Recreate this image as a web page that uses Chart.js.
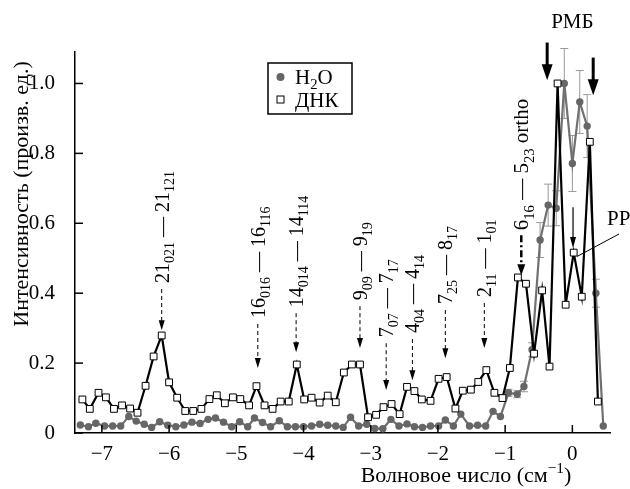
<!DOCTYPE html>
<html>
<head>
<meta charset="utf-8">
<script src="https://cdn.jsdelivr.net/npm/chart.js@4.4.1/dist/chart.umd.min.js"></script>
<style>
  body { margin: 0; background: #fff; }
  #wrap { width: 630px; height: 489px; }
</style>
</head>
<body>
<div id="wrap"><canvas id="myChart" width="630" height="489"></canvas></div>
<script>
// ДНК (squares)
const dnkX = [-7.29, -7.18, -7.05, -6.94, -6.82, -6.70, -6.58, -6.47, -6.35, -6.23,
  -6.11, -6.00, -5.88, -5.76, -5.64, -5.52, -5.40, -5.29, -5.17, -5.05,
  -4.94, -4.81, -4.70, -4.58, -4.46, -4.34, -4.22, -4.10, -3.99, -3.88,
  -3.76, -3.64, -3.52, -3.40, -3.28, -3.16, -3.04, -2.92, -2.81, -2.69,
  -2.57, -2.46, -2.35, -2.24, -2.11, -1.99, -1.87, -1.74, -1.63, -1.51,
  -1.40, -1.28, -1.16, -1.04, -0.93, -0.81, -0.69, -0.57, -0.45, -0.34,
  -0.22, -0.10, 0.02, 0.14, 0.26, 0.38];
const dnkY = [0.096, 0.069, 0.115, 0.102, 0.069, 0.079, 0.070, 0.058, 0.135, 0.219,
  0.279, 0.145, 0.101, 0.063, 0.063, 0.069, 0.097, 0.108, 0.085, 0.102,
  0.097, 0.079, 0.134, 0.079, 0.069, 0.090, 0.090, 0.196, 0.096, 0.101,
  0.087, 0.107, 0.088, 0.173, 0.196, 0.196, 0.045, 0.052, 0.074, 0.083,
  0.054, 0.132, 0.120, 0.096, 0.092, 0.155, 0.160, 0.070, 0.121, 0.124,
  0.146, 0.180, 0.115, 0.100, 0.186, 0.445, 0.427, 0.227, 0.408, 0.190,
  1.000, 0.367, 0.516, 0.390, 0.833, 0.090];

// H2O (grey circles) + error bars
const h2oX = [-7.32, -7.20, -7.09, -6.96, -6.84, -6.72, -6.60, -6.49, -6.37, -6.26,
  -6.14, -6.02, -5.90, -5.78, -5.66, -5.54, -5.42, -5.31, -5.19, -5.07,
  -4.95, -4.83, -4.73, -4.61, -4.49, -4.36, -4.24, -4.12, -4.00, -3.88,
  -3.76, -3.64, -3.52, -3.41, -3.30, -3.18, -3.06, -2.94, -2.82, -2.70,
  -2.58, -2.46, -2.35, -2.23, -2.11, -1.99, -1.89, -1.77, -1.66, -1.53,
  -1.41, -1.29, -1.18, -1.07, -0.95, -0.82, -0.72, -0.60, -0.48, -0.36,
  -0.24, -0.12, 0.00, 0.11, 0.22, 0.35, 0.46];
const h2oY = [0.023, 0.018, 0.028, 0.020, 0.020, 0.020, 0.047, 0.034, 0.025, 0.016,
  0.032, 0.022, 0.018, 0.023, 0.031, 0.027, 0.039, 0.043, 0.031, 0.018,
  0.032, 0.018, 0.043, 0.030, 0.018, 0.035, 0.018, 0.018, 0.018, 0.020,
  0.025, 0.022, 0.020, 0.016, 0.045, 0.020, 0.025, 0.013, 0.012, 0.039,
  0.020, 0.026, 0.018, 0.016, 0.020, 0.020, 0.037, 0.020, 0.054, 0.020,
  0.022, 0.020, 0.062, 0.047, 0.115, 0.111, 0.133, 0.238, 0.552, 0.652,
  0.643, 1.000, 0.771, 0.947, 0.878, 0.400, 0.020];
const h2oErrX = [-0.95, -0.82, -0.72, -0.60, -0.48, -0.36, -0.24, -0.12, 0.00, 0.11, 0.22, 0.35];
const h2oErrY = [0.115, 0.111, 0.133, 0.238, 0.552, 0.652, 0.643, 1.000, 0.771, 0.947, 0.878, 0.400];
const h2oErr = [0.01, 0.01, 0.015, 0.02, 0.05, 0.06, 0.05, 0.10, 0.08, 0.09, 0.09, 0.04];

// transition labels: text pieces, x of arrow, value at text foot, value at arrow tip
const lineNames = [
  [['21', ''], ['021', 'sub'], [' \u2014 21', ''], ['121', 'sub']],
  [['16', ''], ['016', 'sub'], [' \u2014 16', ''], ['116', 'sub']],
  [['14', ''], ['014', 'sub'], [' \u2014 14', ''], ['114', 'sub']],
  [['9', ''], ['09', 'sub'], [' \u2014 9', ''], ['19', 'sub']],
  [['7', ''], ['07', 'sub'], [' \u2014 7', ''], ['17', 'sub']],
  [['4', ''], ['04', 'sub'], [' \u2014 4', ''], ['14', 'sub']],
  [['7', ''], ['25', 'sub'], [' \u2014 8', ''], ['17', 'sub']],
  [['2', ''], ['11', 'sub'], [' \u2014 1', ''], ['01', 'sub']],
  [['6', ''], ['16', 'sub'], [' \u2014 5', ''], ['23', 'sub'], [' ortho', '']]
];
const lineX = [-6.11, -4.68, -4.11, -3.16, -2.77, -2.38, -1.89, -1.31, -0.76];
const lineFoot = [0.429, 0.329, 0.360, 0.380, 0.274, 0.286, 0.369, 0.389, 0.580];
const lineTip = [0.294, 0.186, 0.231, 0.243, 0.123, 0.151, 0.214, 0.243, 0.451];

const rmbX = [-0.375, 0.31];
const rmbFrom = [1.117, 1.074];
const rmbTo = [1.009, 0.966];
const rrX = 0.01;

const serif = '"Liberation Serif", "Times New Roman", serif';
const minus = v => (v < 0 ? '\u2212' + Math.abs(v) : String(v));

function partsWidth(ctx, parts, size) {
  let w = 0;
  parts.forEach(([t, kind]) => {
    ctx.font = (kind ? size * 0.7 : size) + 'px ' + serif;
    w += ctx.measureText(t).width;
  });
  return w;
}

function drawParts(ctx, parts, x, y, size) {
  parts.forEach(([t, kind]) => {
    const s = kind ? size * 0.7 : size;
    ctx.font = s + 'px ' + serif;
    let dy = 0;
    if (kind === 'sub') dy = size * 0.25;
    if (kind === 'sup') dy = -size * 0.4;
    ctx.fillText(t, x, y + dy);
    x += ctx.measureText(t).width;
  });
}

function arrowDown(ctx, x, y0, y1, opt) {
  ctx.save();
  ctx.strokeStyle = '#000';
  ctx.fillStyle = '#000';
  ctx.lineWidth = opt.width;
  ctx.setLineDash(opt.dash || []);
  ctx.beginPath();
  ctx.moveTo(x, y0);
  ctx.lineTo(x, y1 - opt.headL + 1);
  ctx.stroke();
  ctx.setLineDash([]);
  ctx.beginPath();
  ctx.moveTo(x - opt.headW / 2, y1 - opt.headL);
  ctx.lineTo(x + opt.headW / 2, y1 - opt.headL);
  ctx.lineTo(x, y1);
  ctx.closePath();
  ctx.fill();
  ctx.restore();
}

const errorBars = {
  id: 'errorBars',
  beforeDatasetsDraw(chart) {
    const { ctx, scales: { x, y } } = chart;
    ctx.save();
    ctx.strokeStyle = '#9a9a9a';
    ctx.lineWidth = 1;
    h2oErrX.forEach((v, i) => {
      const px = x.getPixelForValue(v);
      const top = y.getPixelForValue(h2oErrY[i] + h2oErr[i]);
      const bot = y.getPixelForValue(h2oErrY[i] - h2oErr[i]);
      ctx.beginPath();
      ctx.moveTo(px, top); ctx.lineTo(px, bot);
      ctx.moveTo(px - 4, top); ctx.lineTo(px + 4, top);
      ctx.moveTo(px - 4, bot); ctx.lineTo(px + 4, bot);
      ctx.stroke();
    });
    ctx.restore();
  }
};

const decorations = {
  id: 'decorations',
  afterDraw(chart) {
    const { ctx, chartArea, scales: { x, y } } = chart;
    ctx.save();

    // inward ticks
    ctx.strokeStyle = '#000';
    ctx.lineWidth = 1.5;
    x.ticks.forEach(t => {
      const px = x.getPixelForValue(t.value);
      ctx.beginPath();
      ctx.moveTo(px, chartArea.bottom);
      ctx.lineTo(px, chartArea.bottom - 8);
      ctx.stroke();
    });
    y.ticks.forEach(t => {
      const py = y.getPixelForValue(t.value);
      ctx.beginPath();
      ctx.moveTo(chartArea.left, py);
      ctx.lineTo(chartArea.left + 8, py);
      ctx.stroke();
    });

    ctx.fillStyle = '#000';
    ctx.textBaseline = 'alphabetic';
    ctx.textAlign = 'left';

    // transition labels, rotated
    lineNames.forEach((parts, i) => {
      const px = x.getPixelForValue(lineX[i]);
      const foot = y.getPixelForValue(lineFoot[i]);
      const tip = y.getPixelForValue(lineTip[i]);
      const size = i === lineNames.length - 1 ? 21 : 20;
      ctx.save();
      ctx.translate(px, foot);
      ctx.rotate(-Math.PI / 2);
      drawParts(ctx, parts, 0, 7, size);
      ctx.restore();
      if (i === lineNames.length - 1) {
        arrowDown(ctx, px, foot + 5, tip, { width: 2.5, dash: [7, 3, 2, 3], headW: 8, headL: 11 });
      } else {
        arrowDown(ctx, px, foot + 6, tip, { width: 1, dash: [4, 3], headW: 6, headL: 10 });
      }
    });

    // РМБ
    ctx.font = '21px ' + serif;
    ctx.textAlign = 'center';
    ctx.textBaseline = 'middle';
    ctx.fillText('РМБ', x.getPixelForValue(0), 22);
    rmbX.forEach((v, i) => {
      arrowDown(ctx, x.getPixelForValue(v), y.getPixelForValue(rmbFrom[i]), y.getPixelForValue(rmbTo[i]),
        { width: 3, headW: 11, headL: 16 });
    });

    // РР
    const rrPx = x.getPixelForValue(rrX);
    arrowDown(ctx, rrPx, y.getPixelForValue(0.646), y.getPixelForValue(0.529), { width: 1.2, headW: 6, headL: 11 });
    ctx.lineWidth = 1;
    ctx.beginPath();
    ctx.moveTo(rrPx + 4, y.getPixelForValue(0.505));
    ctx.lineTo(619, 234);
    ctx.stroke();
    ctx.textAlign = 'left';
    ctx.fillText('РР', 607, 219);

    // legend
    ctx.lineWidth = 1.5;
    ctx.strokeRect(268, 63, 84, 51);
    ctx.fillStyle = '#666';
    ctx.beginPath();
    ctx.arc(280.5, 77, 4, 0, Math.PI * 2);
    ctx.fill();
    ctx.strokeStyle = '#000';
    ctx.lineWidth = 1;
    ctx.strokeRect(277, 96, 7, 7);
    ctx.fillStyle = '#000';
    ctx.textBaseline = 'alphabetic';
    drawParts(ctx, [['H', ''], ['2', 'sub'], ['O', '']], 295, 84, 21);
    drawParts(ctx, [['ДНК', '']], 295, 107, 21);

    // axis titles
    const xt = [['Волновое число (см', ''], ['\u22121', 'sup'], [')', '']];
    const w = partsWidth(ctx, xt, 22);
    drawParts(ctx, xt, 466 - w / 2, 482, 22);

    ctx.save();
    ctx.translate(22, 194);
    ctx.rotate(-Math.PI / 2);
    ctx.font = '22px ' + serif;
    ctx.textAlign = 'center';
    ctx.textBaseline = 'middle';
    ctx.fillText('Интенсивность (произв. ед.)', 0, 0);
    ctx.restore();

    ctx.restore();
  }
};

const ctx1 = document.getElementById('myChart');
const chart = new Chart(ctx1, {
  type: 'line',
  data: {
    datasets: [{
      label: 'ДНК',
      data: dnkX.map((v, i) => ({ x: v, y: dnkY[i] })),
      borderColor: '#000',
      borderWidth: 2.2,
      pointStyle: 'rect',
      pointRadius: 4.8,
      pointBackgroundColor: '#fff',
      pointBorderColor: '#000',
      pointBorderWidth: 1,
      tension: 0
    }, {
      label: 'H2O',
      data: h2oX.map((v, i) => ({ x: v, y: h2oY[i] })),
      borderColor: '#707070',
      borderWidth: 2.2,
      pointStyle: 'circle',
      pointRadius: 3.7,
      pointBackgroundColor: '#666',
      pointBorderColor: '#666',
      pointBorderWidth: 0,
      tension: 0
    }]
  },
  options: {
    responsive: false,
    animation: false,
    layout: { padding: { top: 52, right: 20, left: 0, bottom: 0 } },
    scales: {
      x: {
        type: 'linear',
        min: -7.4,
        max: 0.56,
        afterFit: scale => { scale.height = 56; },
        grid: { display: false },
        border: { color: '#000', width: 1.5 },
        ticks: {
          stepSize: 1,
          includeBounds: false,
          padding: 1,
          color: '#000',
          font: { family: serif, size: 21 },
          callback: v => minus(v)
        }
      },
      y: {
        min: 0,
        max: 1.09,
        afterFit: scale => { scale.width = 75; },
        grid: { display: false },
        border: { color: '#000', width: 1.5 },
        ticks: {
          stepSize: 0.2,
          includeBounds: false,
          padding: 12,
          color: '#000',
          font: { family: serif, size: 21 },
          callback: v => (v === 0 ? '0' : v.toFixed(1))
        }
      }
    },
    plugins: {
      legend: { display: false },
      tooltip: { enabled: false }
    }
  },
  plugins: [errorBars, decorations]
});
</script>
</body>
</html>
